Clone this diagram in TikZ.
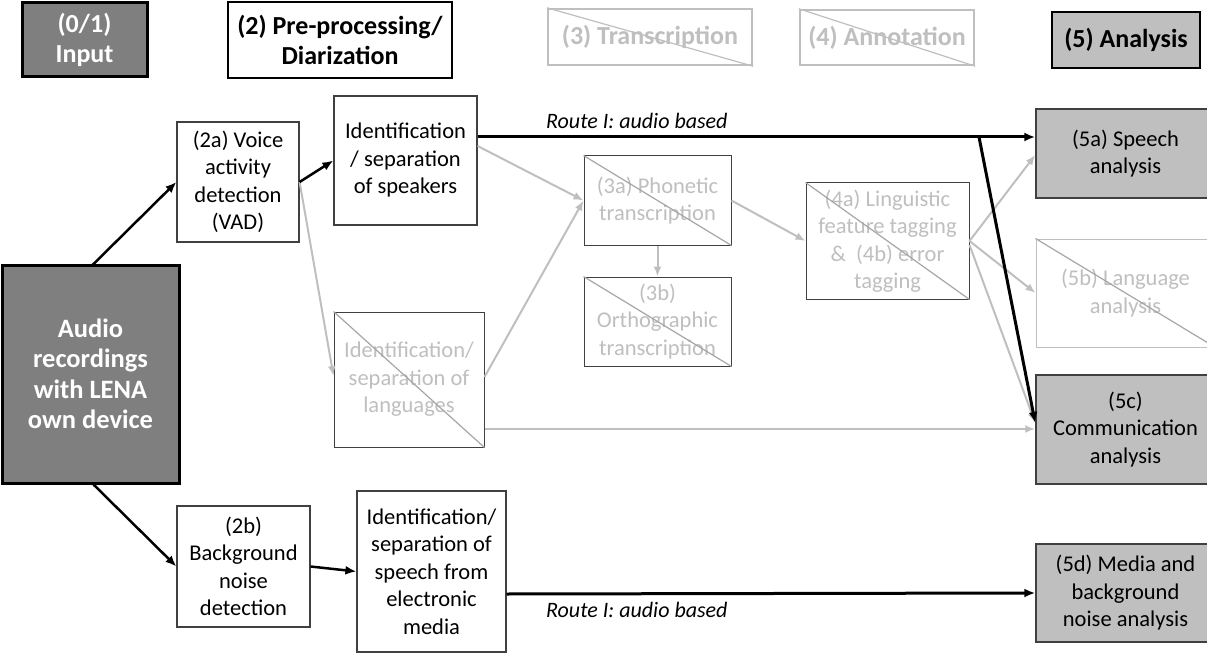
\documentclass[tikz,border=0pt]{standalone}
\usepackage{fontspec}
\setmainfont{Carlito}
\usetikzlibrary{arrows.meta}
\definecolor{dfill}{HTML}{7F7F7F}
\definecolor{lfill}{HTML}{BFBFBF}
\definecolor{offtext}{HTML}{BFBFBF}
\definecolor{offline}{HTML}{A6A6A6}
\definecolor{boxline}{HTML}{404040}
\tikzset{
  txt/.style={font=\fontsize{22.5}{27.5}\selectfont},
  hdr/.style={font=\fontsize{26}{30}\selectfont\bfseries},
  bx/.style={draw=boxline, line width=1.2pt, fill=white, align=center, inner sep=0pt, txt},
  offbx/.style={draw=boxline, line width=1pt, fill=white, align=center, inner sep=0pt, txt, text=offtext},
  resbx/.style={draw=boxline, line width=1.5pt, fill=lfill, align=center, inner sep=0pt, txt},
  blk/.style={line width=2.5pt, -{Latex[length=11pt,width=9pt]}},
  route/.style={line width=3pt},
  gry/.style={draw=offtext, line width=2pt, -{Latex[length=10pt,width=8pt]}},
  diag/.style={draw=offline, line width=1.2pt},
  lbl/.style={font=\fontsize{22}{26}\selectfont\itshape, anchor=west, inner sep=0pt}
}
\begin{document}
\begin{tikzpicture}[x=1pt,y=-1pt]
\useasboundingbox (0,0) rectangle (1207,655);
\begin{scope}
\clip (0,0) rectangle (1207,655);
% headers
\node[draw=black, line width=3pt, fill=dfill, text=white, hdr, align=center, minimum width=125pt, minimum height=74pt, inner sep=0pt] (h1) at (84.5,40) {(0/1)\\Input};
\node[draw=black, line width=2.5pt, fill=white, hdr, align=center, minimum width=224pt, minimum height=76pt, inner sep=0pt] (h2) at (340,40) {(2) Pre-processing/\\Diarization};
\node[draw=offtext, line width=2.5pt, fill=white, text=offtext, hdr, minimum width=204pt, minimum height=56pt, inner sep=0pt] (h3) at (650,37) {(3) Transcription};
\node[draw=offtext, line width=2.5pt, fill=white, text=offtext, hdr, minimum width=174pt, minimum height=55pt, inner sep=0pt] (h4) at (887,37.5) {(4) Annotation};
\node[draw=black, line width=2.5pt, fill=lfill, hdr, minimum width=148pt, minimum height=56pt, inner sep=0pt] (h5) at (1126,40) {(5) Analysis};
\draw[diag, draw=offtext] (h3.north west) -- (h3.south east);
\draw[diag, draw=offtext] (h4.north west) -- (h4.south east);

% input
\node[draw=black, line width=3pt, fill=dfill, text=white, align=center, inner sep=0pt, font=\fontsize{26.5}{30.5}\selectfont\bfseries, minimum width=177pt, minimum height=218pt] (audio) at (90.5,374) {Audio\\recordings\\with LENA\\own device};

% pre-processing
\node[bx, minimum width=122pt, minimum height=120pt] (vad) at (238,182) {(2a) Voice\\activity\\detection\\(VAD)};
\node[bx, minimum width=143pt, minimum height=129pt] (sp) at (405.5,160.5) {Identification\\/ separation\\of speakers};
\node[offbx, minimum width=150pt, minimum height=135pt] (lang) at (409,379.5) {Identification/\\separation of\\languages};
\node[bx, minimum width=133pt, minimum height=121pt] (bg) at (243.5,566.5) {(2b)\\Background\\noise\\detection};
\node[bx, minimum width=149pt, minimum height=161pt] (media) at (431.5,571.5) {Identification/\\separation of\\speech from\\electronic\\media};

% transcription / annotation
\node[offbx, minimum width=147pt, minimum height=89pt] (pho) at (657.5,200.5) {(3a) Phonetic\\transcription};
\node[offbx, minimum width=147pt, minimum height=89pt] (ort) at (657.5,321.5) {(3b)\\Orthographic\\transcription};
\node[offbx, minimum width=163pt, minimum height=116pt] (ann) at (887.5,241) {(4a) Linguistic\\feature tagging\\\&~ (4b) error\\tagging};

% analysis
\node[resbx, minimum width=179pt, minimum height=89pt] (sa) at (1125.5,153.5) {(5a) Speech\\analysis};
\node[offbx, draw=lfill, minimum width=179pt, minimum height=108pt] (la) at (1125.5,293) {(5b) Language\\analysis};
\node[resbx, minimum width=179pt, minimum height=109pt] (ca) at (1125.5,429.5) {(5c)\\Communication\\analysis};
\node[resbx, minimum width=179pt, minimum height=98pt] (ma) at (1125.5,593) {(5d) Media and\\background\\noise analysis};

\foreach \n in {lang,pho,ort,ann,la}{\draw[diag] (\n.north west) -- (\n.south east);}

% gray connectors
\draw[gry] (vad.east) -- (lang.west |- 0,376);
\draw[gry] (sp.east |- 0,146) -- (pho.west);
\draw[gry] (lang.east |- 0,377) -- (pho.west);
\draw[gry] (lang.east |- 0,429) -- (ca.west |- 0,429);
\draw[gry] (pho.south) -- (ort.north);
\draw[gry] (pho.east) -- (ann.west);
\draw[gry] (ann.east) -- (sa.west |- 0,155);
\draw[gry] (ann.east) -- (la.west);
\draw[gry] (ann.east |- 0,245) -- (ca.west |- 0,423);

% black connectors
\coordinate (split) at (979,137);
\draw[blk] (audio.north |- 0,265) ++(2,0) -- (vad.west);
\draw[blk] (vad.east) -- (sp.west);
\draw[route] (sp.east |- 0,137) -- (split);
\draw[route, -{Latex[length=11pt,width=9pt]}] (split) -- (sa.west |- 0,137);
\draw[route, -{Latex[length=11pt,width=9pt]}] (split) -- (ca.west |- 0,423);
\draw[blk] (audio.south) ++(3,0) -- (bg.west);
\draw[blk] (bg.east) -- (media.west);
\draw[route, -{Latex[length=11pt,width=9pt]}] (media.east |- 0,594) -- (ma.west |- 0,593);

% labels
\node[lbl] (r1) at (546,121) {Route I: audio based};
\node[lbl] (r2) at (546,610) {Route I: audio based};
\end{scope}
\end{tikzpicture}
\end{document}
